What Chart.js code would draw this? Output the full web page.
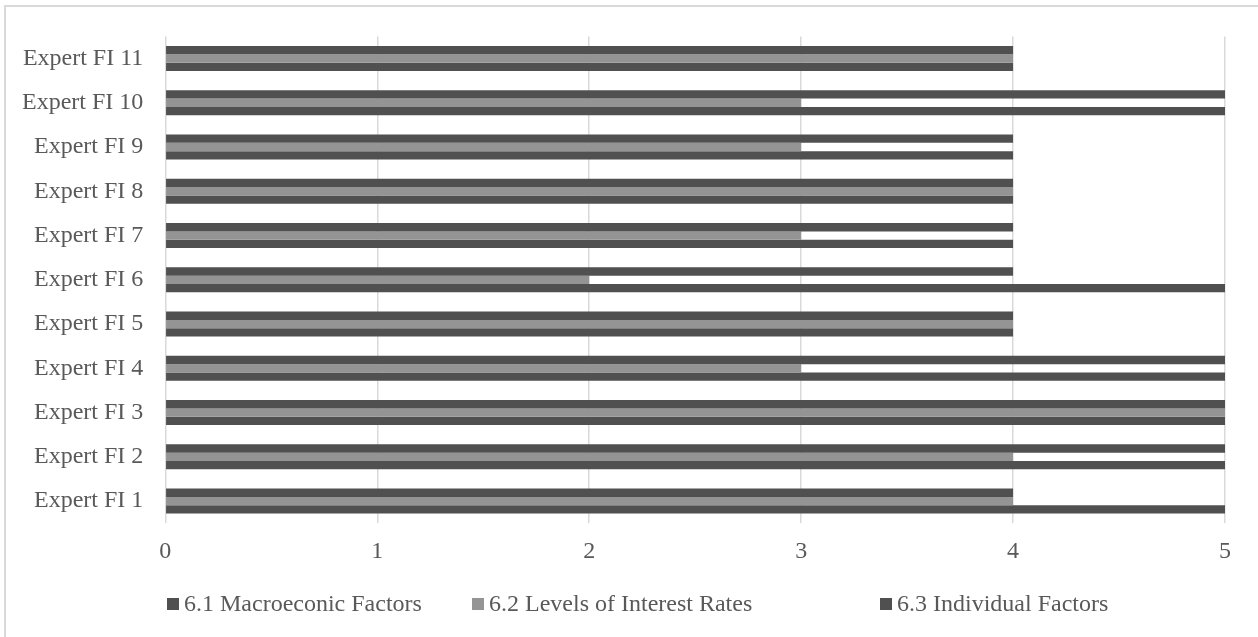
<!DOCTYPE html>
<html>
<head>
<meta charset="utf-8">
<script src="https://cdn.jsdelivr.net/npm/chart.js@4/dist/chart.umd.min.js"></script>
<style>
  html, body { margin: 0; padding: 0; background: #fff; }
  body { width: 1258px; height: 637px; position: relative; overflow: hidden; font-family: "Liberation Serif", "Times New Roman", serif; }
  #frame { position: absolute; left: 4px; top: 5px; width: 1400px; height: 800px; border-left: 2px solid #d9d9d9; border-top: 2px solid #d9d9d9; pointer-events: none; }
  #wrap { position: absolute; left: 0; top: 0; width: 1258px; height: 637px; }
  .lg { position: absolute; top: 590px; height: 26px; line-height: 26px; font-size: 24px; color: #595959; white-space: nowrap; }
  .lg i { display: inline-block; width: 12px; height: 12px; margin-right: 5px; vertical-align: 1px; }
</style>
</head>
<body>
<div id="wrap"><canvas id="c" width="1258" height="637"></canvas></div>
<div id="frame"></div>
<div id="legend"></div>
<script>
// ---- data ----
const categories = ["Expert FI 1", "Expert FI 2", "Expert FI 3", "Expert FI 4", "Expert FI 5", "Expert FI 6",
                    "Expert FI 7", "Expert FI 8", "Expert FI 9", "Expert FI 10", "Expert FI 11"];
const seriesNames = ["6.1 Macroeconic Factors", "6.2 Levels of Interest Rates", "6.3 Individual Factors"];
const macroeconomicFactors = [5, 5, 5, 5, 4, 5, 4, 4, 4, 5, 4];
const interestRateLevels   = [4, 4, 5, 3, 4, 2, 3, 4, 3, 3, 4];
const individualFactors    = [4, 5, 5, 5, 4, 4, 4, 4, 4, 5, 4];
const xTicks = [0, 1, 2, 3, 4, 5];

const seriesColors = ["#505050", "#949494", "#505050"];
const seriesValues = [macroeconomicFactors, interestRateLevels, individualFactors];

// Chart.js stacks grouped bars top-to-bottom; Excel puts series 1 at the bottom, so feed them reversed
const datasets = [2, 1, 0].map(i => ({
  label: seriesNames[i],
  data: seriesValues[i],
  backgroundColor: seriesColors[i],
  borderWidth: 0,
  barPercentage: 1.0,
  categoryPercentage: 0.565
}));

const font = { family: "'Liberation Serif', 'Times New Roman', serif", size: 24 };

new Chart(document.getElementById("c"), {
  type: "bar",
  data: { labels: categories, datasets },
  options: {
    indexAxis: "y",
    responsive: false,
    animation: false,
    layout: { padding: { top: 35, left: 0, right: 33, bottom: 57 } },
    plugins: { legend: { display: false }, tooltip: { enabled: false } },
    scales: {
      x: {
        min: xTicks[0], max: xTicks[xTicks.length - 1],
        afterBuildTicks: s => { s.ticks = xTicks.map(v => ({ value: v })); },
        grid: { color: "#d9d9d9", lineWidth: 1.5, drawTicks: false },
        border: { display: false },
        ticks: { color: "#595959", font, padding: 14 }
      },
      y: {
        reverse: true,
        grid: { display: false, drawTicks: false },
        border: { display: false },
        ticks: { color: "#595959", font, padding: 22 }
      }
    }
  }
});

// legend (HTML, built from the series)
const legendX = [167, 472, 880];
const lg = document.getElementById("legend");
seriesNames.forEach((name, i) => {
  const d = document.createElement("div");
  d.className = "lg";
  d.style.left = legendX[i] + "px";
  const sw = document.createElement("i");
  sw.style.background = seriesColors[i];
  d.appendChild(sw);
  d.appendChild(document.createTextNode(name));
  lg.appendChild(d);
});
</script>
</body>
</html>
